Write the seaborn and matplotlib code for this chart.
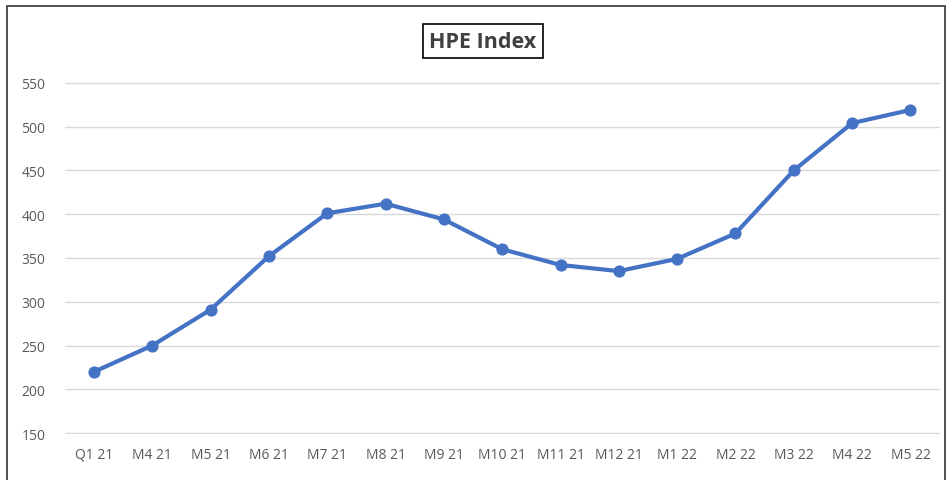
import pandas as pd
import matplotlib.pyplot as plt
import seaborn as sns
from matplotlib.patches import Rectangle

# HPE index per period
periods = ['Q1 21', 'M4 21', 'M5 21', 'M6 21', 'M7 21', 'M8 21', 'M9 21', 'M10 21',
           'M11 21', 'M12 21', 'M1 22', 'M2 22', 'M3 22', 'M4 22', 'M5 22']
hpe_values = [220, 250, 291, 352, 401, 412, 394, 360, 342, 335, 349, 378, 450, 504, 519]
y_ticks = [150, 200, 250, 300, 350, 400, 450, 500, 550]

df = pd.DataFrame({'pos': range(len(periods)), 'period': periods, 'HPE': hpe_values})

sns.set_style("white")
plt.rcParams['font.family'] = ['Open Sans', 'DejaVu Sans']

fig = plt.figure(figsize=(9.52, 4.81), dpi=100)
ax = fig.add_axes([0.068, 0.0956, 0.919, 0.732])

ax.grid(axis='y', color='#d9d9d9', linewidth=1)
ax.set_axisbelow(True)
sns.lineplot(data=df, x='pos', y='HPE', ax=ax, color='#4472c4', linewidth=3,
             marker='o', markersize=8, markeredgecolor='#4472c4')

ax.set_xlim(-0.5, len(periods) - 0.5)
ax.set_ylim(149, 551)
ax.set_xticks(range(len(periods)))
ax.set_xticklabels(periods)
ax.set_yticks(y_ticks)
ax.tick_params(axis='both', length=0, labelsize=10, labelcolor='#595959')
ax.tick_params(axis='x', pad=9)
ax.tick_params(axis='y', pad=14)
ax.set_xlabel('')
ax.set_ylabel('')
for s in ax.spines.values():
    s.set_visible(False)

fig.text(0.507, 0.912, 'HPE Index', ha='center', va='center', fontsize=15.5,
         fontweight='bold', color='#404040',
         bbox=dict(boxstyle='square,pad=0.3', facecolor='white', edgecolor='black', linewidth=1.2))

# outer chart border
fig.patches.append(Rectangle((0.007, -0.01), 0.986, 0.995, transform=fig.transFigure,
                             fill=False, edgecolor='#333333', linewidth=1.2))

plt.savefig('out.png', dpi=100)
